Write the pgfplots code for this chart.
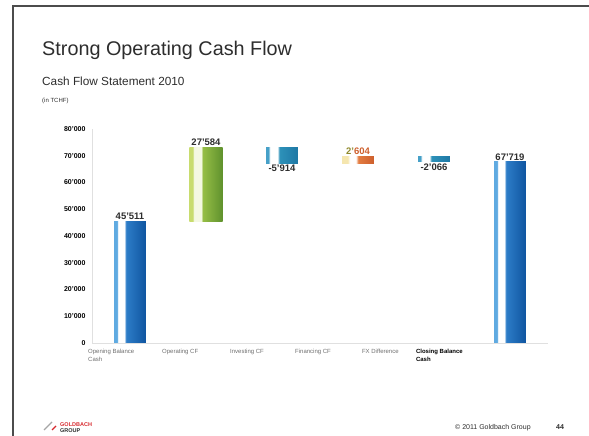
\documentclass[border=0pt]{standalone}
\usepackage{fontspec}
\setmainfont{Liberation Sans}
\usepackage{pgfplots}
\pgfplotsset{compat=1.18}

\definecolor{bllight}{RGB}{95,170,225}
\definecolor{blmid}{RGB}{45,125,200}
\definecolor{bldark}{RGB}{15,85,160}
\definecolor{grlight}{RGB}{200,220,110}
\definecolor{grmid}{RGB}{150,190,70}
\definecolor{grdark}{RGB}{95,145,45}
\definecolor{tllight}{RGB}{70,160,200}
\definecolor{tlmid}{RGB}{45,145,185}
\definecolor{tldark}{RGB}{30,120,165}
\definecolor{orlight}{RGB}{245,230,175}
\definecolor{ormid}{RGB}{228,125,65}
\definecolor{ordark}{RGB}{205,95,45}
\definecolor{txtdark}{RGB}{45,45,45}
\definecolor{lblgray}{RGB}{110,110,110}
\definecolor{logored}{RGB}{215,40,45}

% light stripe, white gap, darker body (fitted to 25bp..75bp)
\pgfdeclarehorizontalshading{blueshade}{100bp}{color(0bp)=(bllight); color(25bp)=(bllight); color(29.5bp)=(bllight); color(31.5bp)=(white); color(41bp)=(white); color(44bp)=(blmid); color(75bp)=(bldark); color(100bp)=(bldark)}
\pgfdeclarehorizontalshading{greenshade}{100bp}{color(0bp)=(grlight); color(25bp)=(grlight); color(30bp)=(grlight); color(32bp)=(white!80!grlight); color(43bp)=(white!80!grlight); color(45bp)=(grmid); color(75bp)=(grdark); color(100bp)=(grdark)}
\pgfdeclarehorizontalshading{tealshade}{100bp}{color(0bp)=(tllight); color(25bp)=(tllight); color(29bp)=(tllight); color(31bp)=(white); color(43bp)=(white); color(46bp)=(tlmid); color(75bp)=(tldark); color(100bp)=(tldark)}
\pgfdeclarehorizontalshading{orangeshade}{100bp}{color(0bp)=(orlight); color(25bp)=(orlight); color(34bp)=(orlight); color(37bp)=(white); color(47bp)=(white); color(50bp)=(ormid); color(75bp)=(ordark); color(100bp)=(ordark)}

\begin{document}
\begin{tikzpicture}[x=1pt,y=1pt]
\path[use as bounding box] (0,0) rectangle (589,436);
% slide frame
\draw[line width=1.6pt, black!70] (13,0) -- (13,430) -- (589,430);

% titles
\node[anchor=base west, inner sep=0, text=txtdark, font=\fontsize{19.8}{22}\selectfont] at (42,380) {Strong Operating Cash Flow};
\node[anchor=base west, inner sep=0, text=txtdark, font=\fontsize{11.8}{13}\selectfont] at (42,350) {Cash Flow Statement 2010};
\node[anchor=base west, inner sep=0, text=txtdark, font=\fontsize{6}{7}\selectfont] at (42,333) {(in TCHF)};

\begin{axis}[
    at={(92pt,93pt)}, anchor=south west,
    scale only axis,
    width=456pt, height=214pt,
    xmin=-0.5, xmax=5.5,
    ymin=0, ymax=80000,
    ytick={0,10000,20000,30000,40000,50000,60000,70000,80000},
    scaled y ticks=false,
    /pgf/number format/1000 sep={'},
    /pgf/number format/assume math mode=true,
    axis lines=left,
    axis line style={-, draw=black!12, line width=0.8pt},
    major tick length=0pt,
    yticklabel style={font=\bfseries\fontsize{7}{8}\selectfont, text=black, xshift=-3pt},
    xtick={-0.474,0.50,1.395,2.25,3.13,3.84},
    xticklabels={{Opening Balance\\Cash},{Operating CF},{Investing CF},{Financing CF},{FX Difference},{\textcolor{black}{\textbf{Closing Balance}}\\\textcolor{black}{\textbf{Cash}}}},
    xticklabel style={anchor=north west, align=left, inner xsep=0pt, inner ysep=0pt, xshift=-6pt, yshift=-6pt, text=lblgray, font=\fontsize{6}{8}\selectfont},
    clip=false,
]
% floating bars: (x-0.21,low) .. (x+0.21,high)
\addplot[draw=none, shading=blueshade] coordinates {(-0.21,0) (0.21,0) (0.21,45511) (-0.21,45511)} -- cycle;
\addplot[draw=none, shading=greenshade] coordinates {(0.78,45511) (1.22,45511) (1.22,73095) (0.78,73095)} -- cycle;
\addplot[draw=none, shading=tealshade] coordinates {(1.79,67181) (2.21,67181) (2.21,73095) (1.79,73095)} -- cycle;
\addplot[draw=none, shading=orangeshade] coordinates {(2.79,67181) (3.21,67181) (3.21,69785) (2.79,69785)} -- cycle;
\addplot[draw=none, shading=tealshade] coordinates {(3.79,67719) (4.21,67719) (4.21,69785) (3.79,69785)} -- cycle;
\addplot[draw=none, shading=blueshade] coordinates {(4.79,0) (5.21,0) (5.21,67719) (4.79,67719)} -- cycle;

% value labels
\begin{scope}[every node/.style={font=\bfseries\fontsize{9.5}{11}\selectfont, text=txtdark, inner sep=1.5pt}]
\node[anchor=south] at (axis cs:0,45511) {45'511};
\node[anchor=south] at (axis cs:1,73095) {27'584};
\node[anchor=north] at (axis cs:2,67181) {-5'914};
\node[anchor=south] at (axis cs:3,69785) {\textcolor{olive!70!gray}{2'}\textcolor{ordark}{604}};
\node[anchor=north] at (axis cs:4,67719) {-2'066};
\node[anchor=south] at (axis cs:5,67719) {67'719};
\end{scope}
\end{axis}

% footer
\draw[line width=1.2pt, black!35] (44,6) -- (52,14);
\draw[line width=1.2pt, logored] (52,6) -- (56,10);
\node[anchor=base west, inner sep=0, text=logored, font=\bfseries\fontsize{5.5}{6}\selectfont] at (60,9) {GOLDBACH};
\node[anchor=base west, inner sep=0, text=txtdark, font=\bfseries\fontsize{5.5}{6}\selectfont] at (60,3) {GROUP};
\node[anchor=base west, inner sep=0, text=txtdark, font=\fontsize{7}{8}\selectfont] at (455,6) {© 2011 Goldbach Group};
\node[anchor=base west, inner sep=0, text=txtdark, font=\bfseries\fontsize{7}{8}\selectfont] at (556,6) {44};
\end{tikzpicture}
\end{document}
